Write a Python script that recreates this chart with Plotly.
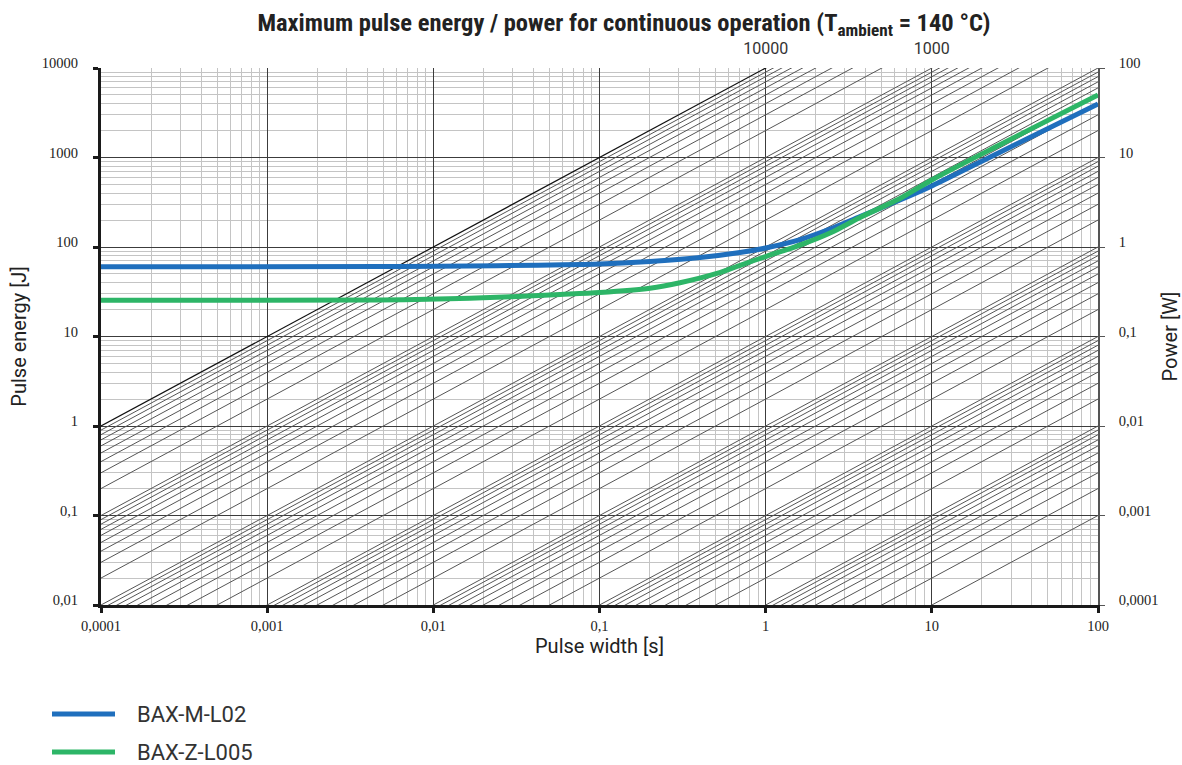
import plotly.graph_objects as go

# ---------------- data ----------------
x_tickvals = [0.0001, 0.001, 0.01, 0.1, 1, 10, 100]
x_ticktext = ["0,0001", "0,001", "0,01", "0,1", "1", "10", "100"]
y_tickvals = [0.01, 0.1, 1, 10, 100, 1000, 10000]
y_ticktext = ["0,01", "0,1", "1", "10", "100", "1000", "10000"]
p_tickvals = [0.0001, 0.001, 0.01, 0.1, 1, 10, 100]
p_ticktext = ["0,0001", "0,001", "0,01", "0,1", "1", "10", "100"]
top_tickvals = [1, 10]
top_ticktext = ["10000", "1000"]

# constant-power reference lines E = c * t
line_mantissas = [1, 2, 3, 4, 5, 6, 7, 8, 9]
line_decades = [0.001, 0.01, 0.1, 1, 10, 100, 1000]
line_top = 10000

series_names = ["BAX-M-L02", "BAX-Z-L005"]
series_colors = ["#1f6fbd", "#2db567"]

blue_t = [0.0001, 0.005, 0.1, 0.201, 0.403, 0.70, 1, 1.61, 2.44, 3.70, 6.43, 10, 25.7, 100]
blue_e = [60, 60.5, 64.6, 68.9, 76.3, 86.8, 97.5, 121, 159, 219, 335, 481, 1146, 3960]

green_t = [0.0001, 0.0048, 0.0166, 0.058, 0.1, 0.201, 0.305, 0.509, 0.709, 1, 1.61, 2.44, 3.70, 6.43, 10, 25.7, 100]
green_e = [25.4, 25.5, 26.7, 29.5, 31.0, 34.6, 39.8, 50.6, 62.9, 78.3, 105, 143, 214, 348, 561, 1390, 4990]

x_range = [0.0001, 100]
power_range = [0.0001, 100]

# ---------------- figure ----------------
W, H = 1182, 765
ML, MR, MT, MB = 101, 84, 68, 160
PW, PH = W - ML - MR, H - MT - MB

fig = go.Figure()

# grey diagonal lines
gx, gy = [], []
for d in line_decades:
    for m in line_mantissas:
        c = m * d
        gx += [x_range[0], x_range[1], None]
        gy += [c * x_range[0], c * x_range[1], None]
fig.add_trace(go.Scatter(x=gx, y=gy, mode="lines", line=dict(color="#555555", width=1),
                         hoverinfo="skip", showlegend=False))
fig.add_trace(go.Scatter(x=x_range, y=[line_top * v for v in x_range], mode="lines",
                         line=dict(color="#111111", width=1.2), hoverinfo="skip", showlegend=False))

for name, col, t, e in [(series_names[0], series_colors[0], blue_t, blue_e),
                        (series_names[1], series_colors[1], green_t, green_e)]:
    fig.add_trace(go.Scatter(x=t, y=e, mode="lines", name=name,
                             line=dict(color=col, width=5, shape="spline", smoothing=0.8),
                             showlegend=False))

# invisible trace to carry the secondary axes
fig.add_trace(go.Scatter(x=x_range, y=power_range, xaxis="x2", yaxis="y2", mode="lines",
                         line=dict(width=0), opacity=0, hoverinfo="skip", showlegend=False))

serif = "Liberation Serif, DejaVu Serif, serif"
sans = "Roboto, Liberation Sans, sans-serif"

axis_common = dict(type="log", automargin=False, showgrid=True, gridcolor="#3c3c3c", gridwidth=1,
                   minor=dict(showgrid=True, gridcolor="#c4c4c4", gridwidth=1, ticks="", dtick="D1"),
                   tickfont=dict(family=serif, size=14.5, color="#222"),
                   showline=True, linecolor="#1a1a1a", linewidth=3,
                   ticks="outside", ticklen=5, tickwidth=3, tickcolor="#1a1a1a",
                   zeroline=False)

fig.update_layout(
    width=W, height=H,
    margin=dict(l=ML, r=MR, t=MT, b=MB),
    paper_bgcolor="white", plot_bgcolor="white",
    showlegend=False,
    title=dict(text="Maximum pulse energy / power for continuous operation (T<sub>ambient</sub> = 140 °C)",
               x=620 / W, xanchor="center", xref="paper", y=1 - 22 / H, yanchor="middle",
               font=dict(family="Liberation Sans Narrow, Roboto Condensed, Liberation Sans, sans-serif",
                         size=24.5, color="#222", weight="bold")),
    xaxis=dict(axis_common, range=[-4, 2], tickvals=x_tickvals, ticktext=x_ticktext,
               ticklabelstandoff=1,
               title=dict(text="Pulse width [s]", font=dict(family=sans, size=20, color="#222"), standoff=6)),
    yaxis=dict(axis_common, range=[-2, 4], tickvals=y_tickvals, ticktext=y_ticktext,
               ticklabelstandoff=12, ticklabelshift=-5,
               title=dict(text="Pulse energy [J]", font=dict(family=sans, size=20, color="#222"), standoff=10)),
    yaxis2=dict(type="log", automargin=False, overlaying="y", side="right", range=[-4, 2], anchor="x",
                tickvals=p_tickvals, ticktext=p_ticktext, showgrid=False,
                tickfont=dict(family=serif, size=14.5, color="#222"),
                showline=True, linecolor="#555", linewidth=1.5,
                ticks="outside", ticklen=5, tickwidth=1, tickcolor="#555",
                ticklabelstandoff=11, ticklabelshift=-5,
                title=dict(text="Power [W]", font=dict(family=sans, size=20, color="#222"), standoff=10)),
    xaxis2=dict(type="log", automargin=False, overlaying="x", side="top", range=[-4, 2], anchor="y",
                tickvals=top_tickvals, ticktext=top_ticktext, showgrid=False, showline=False,
                ticks="", tickfont=dict(family=sans, size=16, color="#333"), ticklabelstandoff=10),
)

# custom legend below the chart
legend_y = [714, 752]
for i, (name, col) in enumerate(zip(series_names, series_colors)):
    yy = (H - legend_y[i] - MB) / PH
    fig.add_shape(type="line", xref="paper", yref="paper",
                  x0=(52 - ML) / PW, x1=(115 - ML) / PW, y0=yy, y1=yy,
                  line=dict(color=col, width=5))
    fig.add_annotation(text=name, xref="paper", yref="paper",
                       x=(135 - ML) / PW, y=yy,
                       xanchor="left", yanchor="middle", showarrow=False,
                       font=dict(family=sans, size=22, color="#333"))

fig.write_html("out.html", config={"displayModeBar": False},
               post_script="document.body.style.margin='0';")
